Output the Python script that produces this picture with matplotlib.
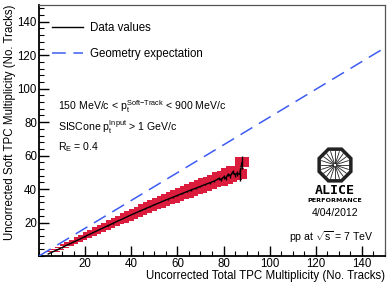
import numpy as np
import matplotlib
matplotlib.use("Agg")
import matplotlib.pyplot as plt
from matplotlib.patches import RegularPolygon, Circle
from matplotlib.lines import Line2D

plt.rcParams['font.family'] = ['Liberation Sans', 'DejaVu Sans']
plt.rcParams['mathtext.fontset'] = 'custom'
plt.rcParams['mathtext.rm'] = 'Liberation Sans'
plt.rcParams['mathtext.it'] = 'Liberation Sans:italic'
plt.rcParams['mathtext.bf'] = 'Liberation Sans:bold'

# ---- data ----
x_total = [4, 6, 8, 10, 12, 14, 16, 18, 20, 22, 24, 26, 28, 30, 32, 34, 36, 38, 40,
           42, 44, 46, 48, 50, 52, 54, 56, 58, 60, 62, 64, 66, 68, 70, 72, 74, 76,
           78, 79, 80, 81, 82, 83, 84, 85, 86, 87, 88]
y_soft = [1.2, 2.5, 3.8, 5.1, 6.4, 7.7, 9.0, 10.3, 11.7, 13.0, 14.3, 15.6, 16.9, 18.2,
          19.5, 20.8, 22.0, 23.3, 24.6, 25.8, 27.0, 28.2, 29.4, 30.6, 31.7, 32.9, 34.0,
          35.1, 36.2, 37.3, 38.4, 39.5, 40.5, 41.6, 42.7, 43.7, 44.8, 46.3, 45.6, 47.2,
          46.5, 48.8, 47.9, 50.2, 48.6, 49.4, 48.8, 56.0]
stat_err = [0.1, 0.1, 0.1, 0.1, 0.1, 0.1, 0.1, 0.1, 0.1, 0.1, 0.1, 0.1, 0.1, 0.1,
            0.15, 0.15, 0.15, 0.15, 0.15, 0.15, 0.2, 0.2, 0.2, 0.2, 0.2, 0.25, 0.25,
            0.25, 0.3, 0.3, 0.35, 0.4, 0.4, 0.5, 0.5, 0.6, 0.7, 0.9, 0.9, 1.0,
            1.0, 1.1, 1.1, 1.2, 1.3, 1.5, 4.0, 4.0]
sys_err = [0.15, 0.3, 0.4, 0.5, 0.6, 0.75, 0.85, 1.0, 1.1, 1.2, 1.3, 1.45, 1.55, 1.7,
           1.8, 1.95, 2.05, 2.15, 2.25, 2.35, 2.5, 2.6, 2.7, 2.8, 2.85, 2.95, 3.05, 3.15,
           3.25, 3.35, 3.45, 3.5, 3.6, 3.7, 3.75, 3.8, 3.85, 3.8, 3.75, 3.7, 3.6, 3.5,
           3.4, 3.3, 3.2, 3.1, 3.0, 3.0]
geom_x = [0, 150]
geom_y = [0, 124.5]

xticks = [20, 40, 60, 80, 100, 120, 140]
yticks = [20, 40, 60, 80, 100, 120, 140]

# ---- figure ----
W, H = 391, 282
fig = plt.figure(figsize=(W / 100, H / 100), dpi=100)
ax = fig.add_axes([39 / W, 1 - 256 / H, 346 / W, 251 / H])

red = '#dc1c3c'
blue = '#3e5cf2'

ys = np.array(y_soft)
se = np.array(sys_err)
ax.bar(x_total, 2 * se, bottom=ys - se, width=6, color=red, linewidth=0, zorder=2)
ax.errorbar(x_total, y_soft, yerr=stat_err, color='black', lw=1.0, elinewidth=1.0,
            capsize=0, zorder=4)
ax.plot(geom_x, geom_y, color=blue, lw=1.1, dashes=(9, 5), zorder=3)

ax.set_xlim(0, 150)
ax.set_ylim(0, 150)
ax.set_xticks(xticks)
ax.set_yticks(yticks)
ax.set_xticks(np.arange(0, 151, 5), minor=True)
ax.set_yticks(np.arange(0, 151, 4), minor=True)
ax.tick_params(axis='both', which='major', direction='in', length=7, width=1.0,
               labelsize=8.3, pad=1.5, top=False, right=False)
ax.tick_params(axis='both', which='minor', direction='in', length=3.5, width=0.8,
               top=False, right=False)
for s in ['left', 'bottom']:
    ax.spines[s].set_linewidth(1.3)
for s in ['top', 'right']:
    ax.spines[s].set_linewidth(0.9)
    ax.spines[s].set_color('#555555')

fig.text(385 / W, 1 - 279 / H, 'Uncorrected Total TPC Multiplicity (No. Tracks)',
         fontsize=8.3, ha='right', va='baseline')
ax.set_ylabel('Uncorrected Soft TPC Multiplicity (No. Tracks)', fontsize=8.3,
              loc='top', labelpad=1)

handles = [Line2D([], [], color='black', lw=1.0),
           Line2D([], [], color=blue, lw=1.1, dashes=(9, 5))]
ax.legend(handles, ['Data values', 'Geometry expectation'], loc='upper left',
          bbox_to_anchor=(0.008, 0.975), frameon=False,
          fontsize=8.3, handlelength=2.7, handletextpad=0.55, labelspacing=1.25)

tfs = 7.6
ax.text(0.055, 0.595, r'150 MeV/c < $\mathrm{p}_{\mathrm{t}}^{\mathrm{Soft\!-\!Track}}$ < 900 MeV/c',
        transform=ax.transAxes, fontsize=tfs, va='center')
ax.text(0.055, 0.515, r'SISCone $\mathrm{p}_{\mathrm{t}}^{\mathrm{Input}}$ > 1 GeV/c',
        transform=ax.transAxes, fontsize=tfs, va='center')
ax.text(0.055, 0.435, r'R$_{\mathrm{E}}$ = 0.4',
        transform=ax.transAxes, fontsize=tfs, va='center')
ax.text(331 / W, 1 - 237 / H, r'pp at $\sqrt{\mathrm{s}}$ = 7 TeV', transform=fig.transFigure,
        fontsize=tfs, ha='center', va='center')

# ALICE logo
fig.text(335 / W, 1 - 190 / H, 'ALICE', fontsize=9.5, fontweight='bold',
         family='DejaVu Sans Mono', ha='center', va='center')
fig.text(335 / W, 1 - 201 / H, 'PERFORMANCE', fontsize=4.6, fontweight='bold',
         family='DejaVu Sans', ha='center', va='center')
fig.text(335 / W, 1 - 213 / H, '4/04/2012', fontsize=7.6, ha='center', va='center')

lax = fig.add_axes([315 / W, 1 - 185 / H, 40 / W, 40 / H])
lax.set_xlim(-1.05, 1.05)
lax.set_ylim(-1.05, 1.05)
lax.axis('off')
lax.add_patch(RegularPolygon((0, 0), 8, radius=1.0, orientation=np.pi / 8, fc='#222222', ec='none'))
lax.add_patch(RegularPolygon((0, 0), 8, radius=0.8, orientation=np.pi / 8, fc='white', ec='none'))
for a in np.linspace(0, 2 * np.pi, 20, endpoint=False):
    lax.plot([0.1 * np.cos(a), 0.74 * np.cos(a)], [0.1 * np.sin(a), 0.74 * np.sin(a)],
             color='#222222', lw=0.6)
lax.add_patch(Circle((0, 0), 0.1, fc='white', ec='#222222', lw=0.5))

fig.savefig('out.png', dpi=100)
